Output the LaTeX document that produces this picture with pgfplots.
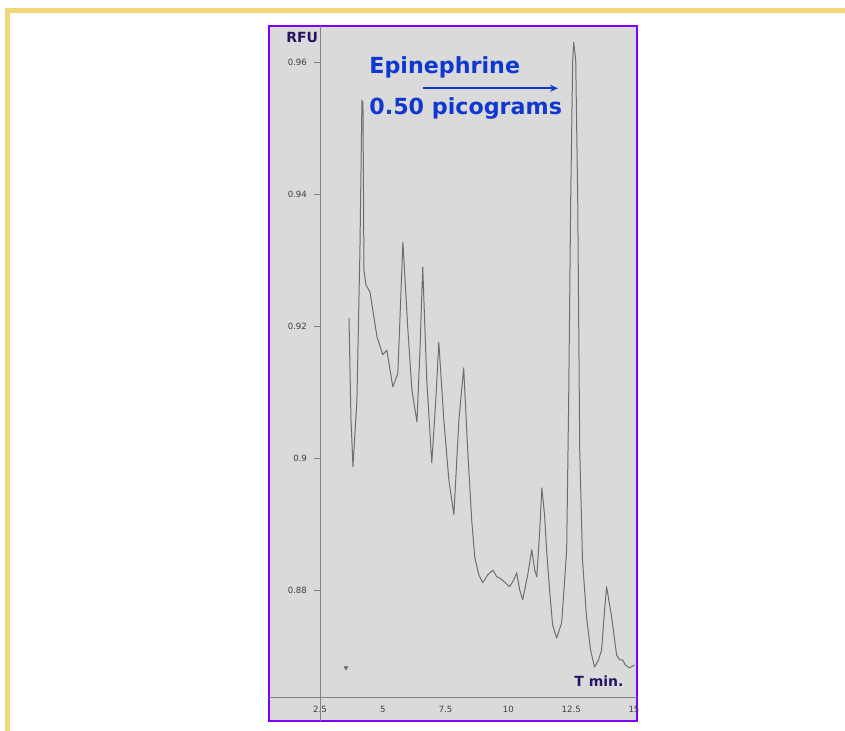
\documentclass[border=0pt]{standalone}
\usepackage{pgfplots}
\pgfplotsset{compat=1.18}
\usepackage{fontspec}
\setmainfont{DejaVu Sans}
\usetikzlibrary{arrows.meta}
\definecolor{frameyellow}{RGB}{240,216,122}
\definecolor{panelgray}{RGB}{218,218,218}
\definecolor{violetframe}{RGB}{128,0,255}
\definecolor{curvegray}{RGB}{110,110,110}
\definecolor{axisgray}{RGB}{130,130,130}
\definecolor{textblue}{RGB}{16,56,208}
\definecolor{labelnavy}{RGB}{40,20,100}
\begin{document}
\begin{tikzpicture}
\useasboundingbox (0,0) rectangle (422.5pt,365.5pt);
\fill[white] (0,0) rectangle (422.5pt,365.5pt);
\fill[frameyellow] (2.5pt,0) rectangle (5pt,361.5pt);
\fill[frameyellow] (2.5pt,359pt) rectangle (422.5pt,361.5pt);

\begin{axis}[
  at={(134.5pt,5pt)}, anchor=south west, scale only axis,
  width=184pt, height=347.5pt,
  xmin=0.47, xmax=15.12, ymin=0.86012, ymax=0.96558,
  axis background/.style={fill=panelgray},
  axis line style={violetframe, line width=1pt},
  ytick=\empty,
  xtick={2.5,5,7.5,10,12.5,15},
  xticklabels={2.5,5,7.5,10,12.5,15},
  tick style={draw=none},
  xticklabel style={font=\fontsize{4.3}{4.3}\selectfont, text=black!75, yshift=11pt},
]
\draw[axisgray, line width=0.5pt] (axis cs:0.47,0.86376) -- (axis cs:15.12,0.86376);
\addplot[curvegray, line width=0.5pt, line join=round] coordinates {
(3.654,0.9213) (3.734,0.9058) (3.813,0.8987) (3.97,0.9088) (4.09,0.9316)
(4.17,0.9543) (4.21,0.9540) (4.25,0.9285) (4.33,0.9263) (4.49,0.9252)
(4.77,0.9184) (5.00,0.9157) (5.16,0.9164) (5.40,0.9108) (5.60,0.9129)
(5.80,0.9328) (6.00,0.9194) (6.16,0.9103) (6.36,0.9055) (6.48,0.9164)
(6.59,0.9290) (6.75,0.9119) (6.95,0.8993) (7.11,0.9088) (7.23,0.9176)
(7.43,0.9058) (7.63,0.8967) (7.83,0.8914) (8.03,0.9058) (8.22,0.9137)
(8.38,0.9012) (8.54,0.8906) (8.66,0.8850) (8.82,0.8823) (8.98,0.8811)
(9.18,0.8823) (9.38,0.8830) (9.54,0.8820) (9.66,0.8818) (9.85,0.8812)
(10.05,0.8805) (10.21,0.8815) (10.33,0.8826) (10.45,0.8800) (10.57,0.8785)
(10.77,0.8823) (10.93,0.8861) (11.05,0.8830) (11.13,0.8820) (11.25,0.8891)
(11.33,0.8955) (11.44,0.8914) (11.52,0.8861) (11.64,0.8800) (11.76,0.8747)
(11.92,0.8727) (12.12,0.8750) (12.24,0.8815) (12.32,0.8861) (12.40,0.9088)
(12.48,0.9392) (12.56,0.9604) (12.60,0.9631) (12.68,0.9604) (12.76,0.9392)
(12.84,0.9012) (12.95,0.8846) (13.11,0.8759) (13.27,0.8709) (13.43,0.8683)
(13.59,0.8694) (13.71,0.8709) (13.83,0.8770) (13.91,0.8805) (14.03,0.8777)
(14.11,0.8759) (14.23,0.8724) (14.31,0.8701) (14.43,0.8694) (14.54,0.8694)
(14.66,0.8686) (14.82,0.8682) (15.02,0.8686)
};
\addplot[only marks, mark=triangle*, mark size=1pt,
  mark options={rotate=180, fill=curvegray, draw=curvegray}] coordinates {(3.535,0.8682)};
\end{axis}

\begin{axis}[
  at={(160pt,5pt)}, anchor=south west, scale only axis,
  width=158.5pt, height=347.5pt,
  xmin=2.5, xmax=15.12, ymin=0.86012, ymax=0.96558,
  axis y line=left, axis x line=none,
  axis line style={-, draw=axisgray, line width=0.5pt},
  ytick={0.88,0.9,0.92,0.94,0.96},
  yticklabels={0.88,0.9,0.92,0.94,0.96},
  tick align=outside, major tick length=3pt,
  tick style={axisgray, line width=0.4pt},
  yticklabel style={font=\fontsize{4.3}{4.3}\selectfont, text=black!75},
]
\end{axis}

\node[anchor=base west, inner sep=0, font=\fontsize{11.1}{13}\selectfont\bfseries, text=textblue] at (184.5pt,328.75pt) {Epinephrine};
\node[anchor=base west, inner sep=0, font=\fontsize{11.1}{13}\selectfont\bfseries, text=textblue] at (184.5pt,308pt) {0.50 picograms};
\draw[textblue, line width=0.8pt, -{Stealth[length=4pt,width=3.5pt]}] (211.5pt,321.35pt) -- (279pt,321.35pt);
\node[anchor=base west, inner sep=0, font=\fontsize{7}{8}\selectfont\bfseries, text=labelnavy] at (143pt,344pt) {RFU};
\node[anchor=base west, inner sep=0, font=\fontsize{7}{8}\selectfont\bfseries, text=labelnavy] at (287pt,22pt) {T min.};
\end{tikzpicture}
\end{document}
